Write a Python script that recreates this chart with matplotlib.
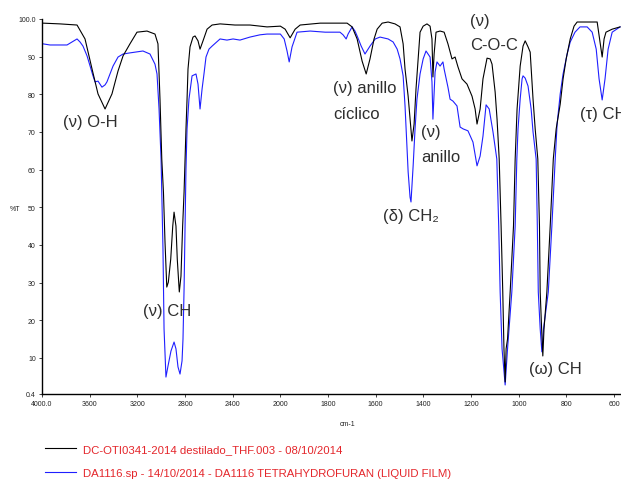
import numpy as np
import matplotlib
matplotlib.use("Agg")
import matplotlib.pyplot as plt

plt.rcParams['font.family'] = ['Liberation Sans', 'DejaVu Sans']

# black trace: DC-OTI0341-2014 destilado THF (wavenumber cm-1, %T)
black_wn = [3992, 3849, 3706, 3639, 3580, 3530, 3471, 3413, 3362, 3320, 3262, 3203, 3119, 3052, 3027,
            3010, 2995, 2981, 2968, 2953, 2940, 2920, 2903, 2892, 2876, 2865, 2848, 2834, 2820, 2808,
            2800, 2792, 2783, 2775, 2758, 2733, 2716, 2691, 2674, 2649, 2615, 2573, 2506, 2381, 2255,
            2171, 2112, 2000, 1980, 1959, 1938, 1917, 1833, 1720, 1699, 1678, 1657, 1640, 1624, 1607,
            1594, 1573, 1548, 1519, 1498, 1485, 1477, 1464, 1456, 1448, 1439, 1431, 1422, 1414, 1401,
            1385, 1372, 1364, 1360, 1355, 1347, 1330, 1313, 1297, 1280, 1267, 1255, 1238, 1217, 1196,
            1183, 1175, 1162, 1150, 1133, 1120, 1112, 1099, 1091, 1082, 1074, 1067, 1062, 1057, 1053,
            1047, 1036, 1022, 1015, 1007, 994, 982, 973, 961, 952, 940, 931, 920, 913, 910,
            904, 899, 894, 882, 868, 855, 843, 826, 814, 801, 784, 768, 755, 713, 671,
            659, 650, 642, 634, 608, 575]
black_t = [98.9, 98.7, 98.4, 94.7, 86.7, 80.1, 76.1, 80.1, 86.2, 90.2, 93.4, 96.5, 96.8, 96.0, 93.4,
           78.7, 62.8, 54.0, 40.8, 28.8, 30.1, 36.2, 45.0, 48.7, 45.0, 36.2, 27.5, 31.7, 45.0, 54.0,
           62.8, 70.8, 78.7, 86.7, 92.6, 95.2, 95.5, 94.2, 92.0, 94.2, 97.3, 98.4, 98.7, 98.4, 98.4,
           98.1, 97.9, 98.1, 97.3, 95.0, 97.3, 98.4, 98.9, 98.9, 97.9, 94.7, 88.8, 85.4, 89.4, 94.7,
           97.3, 98.9, 99.2, 98.7, 97.9, 93.4, 86.7, 79.5, 73.4, 67.6, 72.1, 81.4, 89.4, 96.5, 98.1,
           98.7, 98.1, 94.7, 84.6, 90.7, 96.5, 96.8, 96.5, 93.4, 89.4, 89.9, 87.3, 84.1, 82.7, 79.5,
           76.1, 72.1, 76.1, 84.1, 89.6, 89.4, 88.0, 80.6, 73.4, 62.8, 45.0, 27.5, 12.4, 3.6, 12.4,
           15.0, 27.5, 45.0, 62.8, 76.1, 87.5, 92.8, 94.2, 92.6, 91.2, 78.7, 70.8, 62.8, 45.0, 27.5,
           17.7, 10.5, 17.7, 27.5, 45.0, 62.8, 70.8, 77.4, 84.1, 89.4, 94.7, 98.1, 99.2, 99.2, 99.2,
           93.9, 89.9, 94.7, 96.5, 97.3, 97.9]

# blue trace: DA1116 tetrahydrofuran (liquid film)
blue_wn = [3992, 3933, 3849, 3790, 3748, 3706, 3681, 3656, 3622, 3597, 3572, 3555, 3530, 3497, 3471,
           3455, 3429, 3404, 3362, 3320, 3262, 3153, 3094, 3052, 3035, 3018, 3001, 2985, 2976, 2960,
           2943, 2918, 2892, 2876, 2859, 2842, 2825, 2817, 2808, 2800, 2792, 2783, 2767, 2741, 2708,
           2691, 2674, 2657, 2641, 2624, 2599, 2573, 2506, 2448, 2397, 2339, 2255, 2171, 2112, 2000,
           1984, 1972, 1963, 1951, 1930, 1875, 1812, 1750, 1737, 1724, 1716, 1699, 1687, 1678, 1661,
           1645, 1624, 1602, 1582, 1548, 1527, 1510, 1498, 1485, 1477, 1464, 1456, 1452, 1443, 1435,
           1427, 1414, 1401, 1389, 1372, 1364, 1360, 1351, 1343, 1330, 1318, 1313, 1297, 1288, 1276,
           1259, 1246, 1233, 1213, 1192, 1175, 1162, 1150, 1137, 1124, 1108, 1092, 1084, 1078, 1070,
           1057, 1047, 1029, 1015, 1008, 1003, 994, 986, 982, 973, 961, 948, 940, 927, 922,
           918, 910, 903, 896, 876, 861, 847, 839, 826, 814, 797, 784, 764, 743, 713,
           692, 675, 663, 650, 638, 625, 608, 575]
blue_t = [93.4, 93.1, 93.1, 93.1, 93.9, 94.7, 93.9, 92.8, 90.2, 87.5, 84.9, 83.3, 83.5, 81.9, 82.5,
          83.3, 85.4, 87.5, 89.9, 90.7, 91.0, 91.5, 90.7, 88.0, 85.4, 76.1, 62.8, 38.9, 17.7, 4.9,
          7.8, 11.8, 14.2, 12.4, 7.6, 5.7, 9.2, 15.0, 28.3, 45.0, 60.2, 70.8, 78.7, 84.9, 85.4,
          82.7, 76.1, 81.4, 85.4, 89.9, 92.0, 92.8, 94.7, 94.4, 94.7, 94.4, 95.2, 95.8, 96.0, 96.0,
          94.7, 91.5, 88.6, 92.6, 96.5, 96.8, 96.5, 96.5, 95.8, 94.7, 96.0, 97.9, 96.8, 95.5, 92.8,
          90.7, 92.8, 94.7, 95.2, 94.7, 93.9, 92.0, 89.4, 84.9, 76.9, 59.4, 52.7, 51.4, 61.0, 70.8,
          78.7, 85.4, 89.4, 91.5, 89.9, 83.3, 73.4, 85.9, 88.6, 87.5, 88.6, 86.7, 81.9, 78.7, 78.2,
          76.9, 71.3, 70.8, 70.3, 67.3, 61.0, 63.6, 68.9, 77.2, 76.1, 70.0, 62.8, 45.0, 27.5, 12.4,
          2.8, 12.4, 27.5, 45.0, 62.8, 70.8, 78.7, 84.1, 84.9, 84.3, 82.2, 76.1, 70.0, 62.8, 45.0,
          27.5, 17.7, 11.6, 17.7, 27.5, 45.0, 62.8, 72.1, 80.1, 85.4, 90.7, 93.9, 96.5, 97.9, 97.9,
          96.5, 92.0, 84.1, 78.5, 84.1, 92.0, 96.5, 97.9]

xtick_vals = [4000, 3600, 3200, 2800, 2400, 2000, 1800, 1600, 1400, 1200, 1000, 800, 600]
xtick_labels = ['4000.0', '3600', '3200', '2800', '2400', '2000', '1800', '1600', '1400',
                '1200', '1000', '800', '600']
ytick_vals = [0.4, 10, 20, 30, 40, 50, 60, 70, 80, 90, 100]
ytick_labels = ['0.4', '10', '20', '30', '40', '50', '60', '70', '80', '90', '100.0']

legend_labels = ['DC-OTI0341-2014 destilado_THF.003 - 08/10/2014',
                 'DA1116.sp - 14/10/2014 - DA1116 TETRAHYDROFURAN (LIQUID FILM)']


# x axis is expanded 2x below 2000 cm-1
def fwd(w):
    w = np.asarray(w, dtype=float)
    return np.where(w >= 2000, (w - 2000) / 400.0, (w - 2000) / 200.0)


def inv(u):
    u = np.asarray(u, dtype=float)
    return np.where(u >= 0, 2000 + 400 * u, 2000 + 200 * u)


fig = plt.figure(figsize=(6.21, 4.81), dpi=100)
ax = fig.add_axes([42 / 621, 1 - 395 / 481, 1 - 42 / 621, 375 / 481])
ax.set_xscale('function', functions=(fwd, inv))

blue_line, = ax.plot(blue_wn, blue_t, color='#1f1fff', lw=0.8)
black_line, = ax.plot(black_wn, black_t, color='black', lw=0.8)

ax.set_xlim(4000, 571)
ax.set_ylim(0.4, 100)
ax.set_xticks(xtick_vals, labels=xtick_labels)
ax.set_yticks(ytick_vals, labels=ytick_labels)
ax.minorticks_off()
ax.tick_params(labelsize=5, length=2.5, width=0.6, colors='#222222', pad=2)
for s in ['top', 'right']:
    ax.spines[s].set_visible(False)
for s in ['left', 'bottom']:
    ax.spines[s].set_linewidth(1.0)

ax.set_xlabel('cm-1', fontsize=5, color='#222222')
ax.xaxis.set_label_coords(0.528, -0.069)
ax.set_ylabel('%T', fontsize=5, color='#222222', rotation=0)
ax.yaxis.set_label_coords(-0.047, 0.485)

# band assignments
tc = '#2e2e2e'
fs = 12
ax.text(3824, 72.9, '(ν) O-H', fontsize=fs, color=tc, va='center')
ax.text(1779, 81.7, '(ν) anillo', fontsize=fs, color=tc, va='center')
ax.text(1779, 74.9, 'cíclico', fontsize=fs, color=tc, va='center')
ax.text(1410, 70.0, '(ν)', fontsize=fs, color=tc, va='center')
ax.text(1410, 63.6, 'anillo', fontsize=fs, color=tc, va='center')
ax.text(1569, 47.7, '(δ) CH₂', fontsize=fs, color=tc, va='center')
ax.text(1204, 99.7, '(ν)', fontsize=fs, color=tc, va='center')
ax.text(1204, 93.1, 'C-O-C', fontsize=fs, color=tc, va='center')
ax.text(743, 74.8, '(τ) CH', fontsize=fs, color=tc, va='center')
ax.text(3153, 22.7, '(ν) CH', fontsize=fs, color=tc, va='center')
ax.text(957, 7.3, '(ω) CH', fontsize=fs, color=tc, va='center')

fig.legend(handles=[black_line, blue_line], labels=legend_labels, loc='upper left',
           bbox_to_anchor=(45 / 621, 1 - 445 / 481), frameon=False, fontsize=8.2,
           labelcolor='#e4262b', handlelength=2.7, handletextpad=0.6, labelspacing=1.25,
           borderpad=0, borderaxespad=0)

fig.savefig('out.png', dpi=100)
